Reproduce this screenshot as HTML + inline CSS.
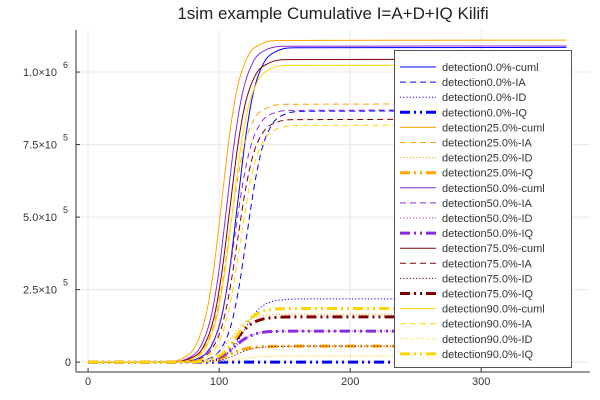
<!DOCTYPE html>
<html><head><meta charset="utf-8"><style>
html,body{margin:0;padding:0;background:#fff;}
svg{display:block;font-family:"Liberation Sans",sans-serif;}
</style></head><body>
<svg id="chart" width="600" height="400" viewBox="0 0 600 400">
<rect width="600" height="400" fill="#fff"/>
<text x="333" y="19" font-size="17" text-anchor="middle" fill="#222">1sim example Cumulative I=A+D+IQ Kilifi</text>
<g id="grid"></g>
<g id="series"></g>
<g id="axes"></g>
<g id="legend"></g>
</svg>
<script>
const xTicks=[0,100,200,300];
const yTicks=[0,250000,500000,750000,1000000];
const yTickMant=["0","2.5×10","5.0×10","7.5×10","1.0×10"];
const yTickExp=["","5","5","5","6"];
const seriesNames=["detection0.0%-cuml","detection0.0%-IA","detection0.0%-ID","detection0.0%-IQ","detection25.0%-cuml","detection25.0%-IA","detection25.0%-ID","detection25.0%-IQ","detection50.0%-cuml","detection50.0%-IA","detection50.0%-ID","detection50.0%-IQ","detection75.0%-cuml","detection75.0%-IA","detection75.0%-ID","detection75.0%-IQ","detection90.0%-cuml","detection90.0%-IA","detection90.0%-ID","detection90.0%-IQ"];
const d114=[0,69,84,94,102,108,114,120,126,134,144,159,365];
const d121=[0,76,91,101,109,115,121,127,133,141,151,166,365];
const d119=[0,74,89,99,107,113,119,125,131,139,149,164,365];
const d102=[0,57,72,82,90,96,102,108,114,122,132,147,365];
const d108=[0,63,78,88,96,102,108,114,120,128,138,153,365];
const d109=[0,64,79,89,97,103,109,115,121,129,139,154,365];
const d106=[0,61,76,86,94,100,106,112,118,126,136,151,365];
const d112=[0,67,82,92,100,106,112,118,124,132,142,157,365];
const d113=[0,68,83,93,101,107,113,119,125,133,143,158,365];
const d110=[0,65,80,90,98,104,110,116,122,130,140,155,365];
const d116=[0,71,86,96,104,110,116,122,128,136,146,161,365];
const seriesDays=[d114,d121,d119,d119,d102,d108,d109,d109,d106,d112,d112,d112,d108,d114,d114,d113,d110,d116,d116,d114];
// values in thousands
const v0cuml=[0,1,13,54,158,318,543,767,927,1031,1072,1084,1085];
const v0IA=[0,1,10,43,126,254,433,612,740,823,856,865,866];
const v0ID=[0,0,3,11,32,64,109,154,186,207,215,218,218];
const v0IQ=[0,0,0,0,0,0,0,0,0,0,0,0,0];
const v25cuml=[0,1,13,56,162,325,555,785,948,1055,1097,1109,1110];
const v25IA=[0,1,11,45,130,261,445,629,760,846,879,889,890];
const v25ID=[0,0,2,8,24,48,83,117,141,157,163,165,165];
const v25IQ=[0,0,1,3,8,16,28,39,47,52,54,55,55];
const v50cuml=[0,1,13,55,159,319,545,771,931,1036,1077,1089,1090];
const v50IA=[0,1,10,43,127,255,435,614,742,826,859,868,869];
const v50ID=[0,0,1,5,16,31,54,76,91,102,106,107,107];
const v50IQ=[0,0,1,5,16,31,54,76,91,102,106,107,107];
const v75cuml=[0,1,13,52,152,306,522,738,892,992,1031,1043,1044];
const v75IA=[0,1,10,42,122,245,419,592,715,795,827,836,837];
const v75ID=[0,0,1,3,8,16,28,39,47,52,54,55,55];
const v75IQ=[0,0,2,8,23,46,78,110,133,148,154,156,156];
const v90cuml=[0,1,12,51,150,300,512,724,874,973,1012,1023,1024];
const v90IA=[0,1,10,41,119,239,409,578,698,776,807,816,817];
const v90ID=[0,0,0,1,3,6,11,15,18,20,21,21,21];
const v90IQ=[0,0,2,9,27,54,93,131,158,176,183,185,185];
const seriesValues=[v0cuml,v0IA,v0ID,v0IQ,v25cuml,v25IA,v25ID,v25IQ,v50cuml,v50IA,v50ID,v50IQ,v75cuml,v75IA,v75ID,v75IQ,v90cuml,v90IA,v90ID,v90IQ];

const colors=["#0000ff","#ffa500","#8a2be2","#800000","#ffd700"];
const L=76,R=590,T=30,B=372;
const X0=-9.2,X1=383;
const Y0=-34000,Y1=1145000;
function sx(d){return L+(d-X0)/(X1-X0)*(R-L);}
function sy(v){return B-(v-Y0)/(Y1-Y0)*(B-T);}
const NS="http://www.w3.org/2000/svg";
function mk(tag,attrs,parent){const e=document.createElementNS(NS,tag);for(const k in attrs)e.setAttribute(k,attrs[k]);parent.appendChild(e);return e;}
const grid=document.getElementById('grid'),axes=document.getElementById('axes'),sg=document.getElementById('series'),lg=document.getElementById('legend');
xTicks.forEach(t=>{
  const g=mk('line',{x1:sx(t),x2:sx(t),y1:T,y2:B,stroke:'#e8e8e8','stroke-width':1},grid);
  
  
  const tk=mk('line',{x1:sx(t),x2:sx(t),y1:B,y2:B-4,stroke:'#333','stroke-width':1},axes);
  
  
  const tx=mk('text',{x:sx(t),y:B+13,'font-size':11,'text-anchor':'middle',fill:'#333'},axes);
  tx.textContent=t;
  
  
});
yTicks.forEach((t,i)=>{
  const y=sy(t);
  const g=mk('line',{x1:L,x2:R,y1:y,y2:y,stroke:'#e8e8e8','stroke-width':1},grid);
  
  
  const tk=mk('line',{x1:L,x2:L+4,y1:y,y2:y,stroke:'#333','stroke-width':1},axes);
  
  
  const tx=mk('text',{x:yTickExp[i]?57:71,y:y+4,'font-size':11,'text-anchor':'end',fill:'#333'},axes);
  tx.textContent=yTickMant[i];
  
  
  if(yTickExp[i]){
    const ex=mk('text',{x:63,y:y-4,'font-size':9,'text-anchor':'start',fill:'#333'},axes);
    ex.textContent=yTickExp[i];
    
    
  }
});
const la=mk('line',{x1:L,x2:L,y1:T,y2:B,stroke:'#333','stroke-width':1},axes);


const ba=mk('line',{x1:L,x2:R,y1:B,y2:B,stroke:'#333','stroke-width':1},axes);



function styleFor(i){
  const kind=i%4;const c=colors[Math.floor(i/4)];
  if(kind===0)return {stroke:c,'stroke-width':1};
  if(kind===1)return {stroke:c,'stroke-width':1,'stroke-dasharray':'6 4'};
  if(kind===2)return {stroke:c,'stroke-width':1,'stroke-dasharray':'1.2 2'};
  return {stroke:c,'stroke-width':3,'stroke-dasharray':'10 4 2 4 2 4'};
}
function monoPath(px,py){
  const n=px.length,dx=[],m=[],t=[];
  for(let i=0;i<n-1;i++){dx.push(px[i+1]-px[i]);m.push((py[i+1]-py[i])/(px[i+1]-px[i]));}
  t[0]=m[0];t[n-1]=m[n-2];
  for(let i=1;i<n-1;i++){t[i]=(m[i-1]*m[i]<=0)?0:(m[i-1]+m[i])/2;}
  for(let i=0;i<n-1;i++){if(m[i]===0){t[i]=0;t[i+1]=0;continue;}const a=t[i]/m[i],b=t[i+1]/m[i],s=a*a+b*b;if(s>9){const k=3/Math.sqrt(s);t[i]=k*a*m[i];t[i+1]=k*b*m[i];}}
  let d='M'+px[0].toFixed(2)+','+py[0].toFixed(2);
  for(let i=0;i<n-1;i++){const h=dx[i]/3;d+=' C'+(px[i]+h).toFixed(2)+','+(py[i]+t[i]*h).toFixed(2)+' '+(px[i+1]-h).toFixed(2)+','+(py[i+1]-t[i+1]*h).toFixed(2)+' '+px[i+1].toFixed(2)+','+py[i+1].toFixed(2);}
  return d;
}
seriesNames.forEach((nm,i)=>{
  const px=seriesDays[i].map(sx),py=seriesValues[i].map(v=>sy(v*1000));
  const a=styleFor(i);a.d=monoPath(px,py);a.fill='none';
  const p=mk('path',a,sg);
  
  
});
// legend
const lb=mk('rect',{x:394.5,y:50.5,width:177,height:317,fill:'#fff',stroke:'#555','stroke-width':1},lg);


seriesNames.forEach((nm,i)=>{
  const y=67+i*15.1;
  const a=styleFor(i);a.x1=400;a.x2=436;a.y1=y;a.y2=y;
  const ln=mk('line',a,lg);
  
  
  const tx=mk('text',{x:442,y:y+4,'font-size':11,fill:'#333'},lg);
  tx.textContent=nm;
  
  
});
</script>
</body></html>
